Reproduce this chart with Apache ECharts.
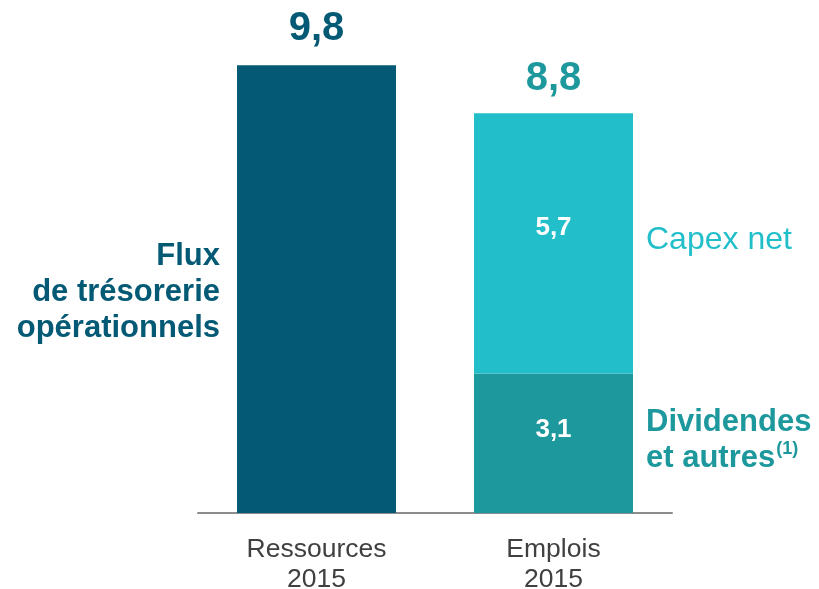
<!DOCTYPE html>
<html>
<head>
<meta charset="utf-8">
<script src="https://cdn.jsdelivr.net/npm/echarts@6/dist/echarts.min.js"></script>
<style>
  html, body { margin: 0; padding: 0; background: #fff; }
  #chart { width: 819px; height: 589px; }
</style>
</head>
<body>
<div id="chart"></div>
<script>
// data
const categories = ["Ressources\n2015", "Emplois\n2015"];
const fluxTresorerie = [9.8, "-"];
const dividendes = ["-", 3.05];
const capexNet = ["-", 5.7];
const totals = [9.8, 8.75];

const DARK = "#045a75";
const CYAN = "#22bfca";
const TEAL = "#1d989d";
const FONT = "Liberation Sans, Arial, sans-serif";

function fmt(v) {
  // one decimal, french comma
  return (Math.round(v * 10 + 1e-6) / 10).toFixed(1).replace(".", ",");
}

const chart = echarts.init(document.getElementById("chart"));

const option = {
  animation: false,
  backgroundColor: "#fff",
  textStyle: { fontFamily: FONT },
  grid: {
    left: 198, right: 147, top: 56, bottom: 76,
    containLabel: false,
    outerBoundsMode: "none",
  },
  xAxis: {
    type: "category",
    data: categories,
    axisTick: { show: false },
    axisLine: { lineStyle: { color: "#8c8c8c", width: 2 } },
    axisLabel: {
      color: "#404040",
      fontSize: 26.5,
      lineHeight: 30,
      margin: 22,
      fontFamily: FONT,
    },
  },
  yAxis: {
    type: "value",
    min: 0,
    max: 10,
    show: false,
    splitLine: { show: false },
  },
  series: [
    {
      name: "Flux de trésorerie opérationnels",
      type: "bar",
      stack: "a",
      barWidth: 159,
      barGap: "-100%",
      data: fluxTresorerie,
      itemStyle: { color: DARK },
      label: {
        show: true,
        position: "left",
        distance: 17,
        offset: [0, 3],
        align: "right",
        color: DARK,
        fontWeight: "bold",
        fontSize: 31,
        lineHeight: 36,
        fontFamily: FONT,
        formatter: "Flux\nde trésorerie\nopérationnels",
      },
    },
    {
      name: "Dividendes",
      type: "bar",
      stack: "a",
      barWidth: 159,
      data: dividendes,
      itemStyle: { color: TEAL },
      label: {
        show: true,
        position: "inside",
        offset: [0, -13],
        color: "#fff",
        fontWeight: "bold",
        fontSize: 26,
        fontFamily: FONT,
        formatter: (p) => fmt(p.value),
      },
    },
    {
      name: "Capex net",
      type: "bar",
      stack: "a",
      barWidth: 159,
      data: capexNet,
      itemStyle: { color: CYAN },
      label: {
        show: true,
        position: "inside",
        offset: [0, -16],
        color: "#fff",
        fontWeight: "bold",
        fontSize: 26,
        fontFamily: FONT,
        formatter: (p) => fmt(p.value),
      },
    },
    // transparent overlays carrying the side names
    {
      name: "nomDividendes",
      type: "bar",
      stack: "b",
      barWidth: 159,
      data: dividendes,
      itemStyle: { color: "transparent" },
      silent: true,
      label: {
        show: true,
        position: "right",
        distance: 13,
        offset: [0, -3],
        formatter: "{b|Dividendes}\n{b|et autres}{s|(1)}",
        rich: {
          b: { color: TEAL, fontWeight: "bold", fontSize: 31, lineHeight: 36, fontFamily: FONT },
          s: { color: TEAL, fontWeight: "bold", fontSize: 18, lineHeight: 36, verticalAlign: "top", padding: [0, 0, 12, 1], fontFamily: FONT },
        },
      },
    },
    {
      name: "nomCapex",
      type: "bar",
      stack: "b",
      barWidth: 159,
      data: capexNet,
      itemStyle: { color: "transparent" },
      silent: true,
      label: {
        show: true,
        position: "right",
        distance: 13,
        offset: [0, -3],
        color: CYAN,
        fontSize: 32,
        fontFamily: FONT,
        formatter: "Capex net",
      },
    },
    // transparent totals for the top labels
    {
      name: "total",
      type: "bar",
      stack: "c",
      barWidth: 159,
      data: [
        { value: totals[0], label: { color: DARK, distance: 16 } },
        { value: totals[1], label: { color: TEAL, distance: 14 } },
      ],
      itemStyle: { color: "transparent" },
      silent: true,
      label: {
        show: true,
        position: "top",
        fontWeight: "bold",
        fontSize: 40,
        fontFamily: FONT,
        formatter: (p) => fmt(p.value),
      },
    },
  ],
};

chart.setOption(option);
</script>
</body>
</html>
